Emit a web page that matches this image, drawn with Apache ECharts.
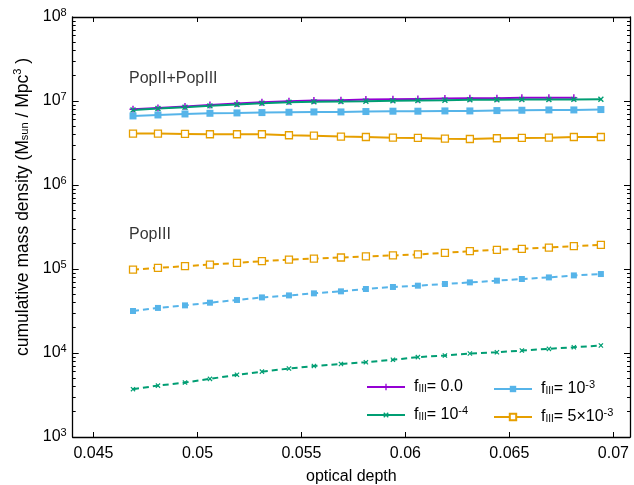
<!DOCTYPE html>
<html>
<head>
<meta charset="utf-8">
<script src="https://cdn.jsdelivr.net/npm/echarts@6/dist/echarts.min.js"></script>
<style>
html,body{margin:0;padding:0;background:#fff;}
#chart{width:634px;height:485px;}
</style>
</head>
<body>
<div id="chart"></div>
<script>
// optical depth (x) for each sample
const tau = [0.0469, 0.0481, 0.0494, 0.0506, 0.0519, 0.0531, 0.0544, 0.0556, 0.0569, 0.0581,
             0.0594, 0.0606, 0.0619, 0.0631, 0.0644, 0.0656, 0.0669, 0.0681, 0.0694];

// PopII+PopIII (solid)
const totF0   = [7.98e6, 8.28e6, 8.59e6, 8.98e6, 9.33e6, 9.68e6, 9.95e6, 1.014e7, 1.023e7, 1.042e7,
                 1.05e7, 1.059e7, 1.07e7, 1.08e7, 1.08e7, 1.09e7, 1.09e7, 1.09e7];
const totF4   = [7.83e6, 8.13e6, 8.43e6, 8.75e6, 9.08e6, 9.42e6, 9.68e6, 9.77e6, 9.87e6, 9.95e6,
                 1.004e7, 1.015e7, 1.023e7, 1.033e7, 1.033e7, 1.042e7, 1.042e7, 1.045e7, 1.05e7];
const totF3   = [6.64e6, 6.82e6, 7.01e6, 7.14e6, 7.21e6, 7.28e6, 7.35e6, 7.41e6, 7.41e6, 7.49e6,
                 7.56e6, 7.56e6, 7.62e6, 7.62e6, 7.69e6, 7.76e6, 7.83e6, 7.83e6, 7.91e6];
const totF53  = [4.09e6, 4.09e6, 4.06e6, 4.02e6, 4.02e6, 4.02e6, 3.91e6, 3.87e6, 3.77e6, 3.73e6,
                 3.66e6, 3.63e6, 3.56e6, 3.53e6, 3.6e6, 3.63e6, 3.66e6, 3.73e6, 3.73e6];

// PopIII only (dashed)
const p3F4    = [3.71e3, 4.09e3, 4.45e3, 4.92e3, 5.5e3, 6.0e3, 6.53e3, 7.0e3, 7.41e3, 7.76e3,
                 8.3e3, 8.93e3, 9.33e3, 9.86e3, 1.02e4, 1.07e4, 1.12e4, 1.17e4, 1.23e4];
const p3F3    = [3.16e4, 3.44e4, 3.69e4, 3.97e4, 4.28e4, 4.59e4, 4.85e4, 5.13e4, 5.42e4, 5.78e4,
                 6.11e4, 6.33e4, 6.63e4, 6.93e4, 7.26e4, 7.6e4, 7.94e4, 8.39e4, 8.71e4];
const p3F53   = [9.84e4, 1.03e5, 1.08e5, 1.13e5, 1.18e5, 1.24e5, 1.29e5, 1.33e5, 1.37e5, 1.41e5,
                 1.45e5, 1.49e5, 1.56e5, 1.63e5, 1.69e5, 1.74e5, 1.8e5, 1.87e5, 1.94e5];

const xTicks = [0.045, 0.05, 0.055, 0.06, 0.065, 0.07];
const yTicks = [1e3, 1e4, 1e5, 1e6, 1e7, 1e8];
const yMinor = [];
for (let e = 3; e < 8; e++) for (let m = 2; m <= 9; m++) yMinor.push(m * Math.pow(10, e));

const annotations = [
  { text: 'PopII+PopIII', x: 0.04671, y: 1.85e7 },
  { text: 'PopIII', x: 0.04671, y: 2.6e5 }
];

const FONT = 'Liberation Sans, Arial, Helvetica, sans-serif';
const C = { f0: '#9400D3', f4: '#009E73', f3: '#56B4E9', f53: '#E69F00' };

const PLUS = 'path://M4,0h2v4h4v2h-4v4h-2v-4h-4v-2h4z';

function pairs(v) { return v.map((y, i) => [tau[i], y]); }

function mk(name, color, vals, dashed, symbol, rotate, size, empty) {
  return {
    type: 'line', name: name, data: pairs(vals),
    xAxisIndex: 0, yAxisIndex: 0,
    symbol: symbol, symbolSize: size, symbolRotate: rotate || 0, showSymbol: true,
    lineStyle: { color: color, width: 2, type: dashed ? [6, 4] : 'solid' },
    itemStyle: empty ? { color: '#fff', borderColor: color, borderWidth: 1.3 } : { color: color, borderWidth: 0 },
    emphasis: { disabled: true }, animation: false, z: dashed ? 2 : 3
  };
}

const sup = (e) => '{b|10}{s|' + e + '}';

const rich = {
  b: { fontSize: 16, fontFamily: FONT, color: '#000' },
  s: { fontSize: 11, fontFamily: FONT, color: '#000', padding: [0, 0, 9, 0] },
  u: { fontSize: 10, fontFamily: FONT, color: '#000', padding: [5, 0, 0, 0] }
};

const legendLabels = {
  f0: '{b|f}{u|III}{b|= 0.0}',
  f4: '{b|f}{u|III}{b|= 10}{s|-4}',
  f3: '{b|f}{u|III}{b|= 10}{s|-3}',
  f53: '{b|f}{u|III}{b|= 5\u00d710}{s|-3}'
};

function legendCfg(data, left) {
  return {
    data: data, left: left, top: 374, orient: 'vertical', itemGap: 10,
    itemWidth: 38, itemHeight: 8, selectedMode: false,
    formatter: (n) => legendLabels[n],
    textStyle: { rich: rich, fontSize: 16, fontFamily: FONT, padding: [0, 0, 0, 4] }
  };
}

const option = {
  animation: false,
  grid: { left: 72.7, right: 4, top: 17, bottom: 48, containLabel: false, outerBoundsMode: 'none' },
  legend: [legendCfg(['f0', 'f4'], 361), legendCfg(['f3', 'f53'], 488)],
  xAxis: [
    {
      type: 'value', min: 0.044, max: 0.0708, position: 'bottom',
      name: 'optical depth', nameLocation: 'middle', nameGap: 32,
      nameTextStyle: { fontSize: 16, fontFamily: FONT, color: '#000' },
      axisLine: { show: true, onZero: false, lineStyle: { color: '#000', width: 1.3 } },
      axisTick: { show: true, inside: true, length: 5, customValues: xTicks, lineStyle: { color: '#000' } },
      axisLabel: { customValues: xTicks, fontSize: 16, fontFamily: FONT, color: '#000', margin: 9, formatter: (v) => String(+v.toFixed(3)) },
      splitLine: { show: false }
    },
    {
      type: 'value', min: 0.044, max: 0.0708, position: 'top',
      axisLine: { show: true, onZero: false, lineStyle: { color: '#000', width: 1.3 } },
      axisTick: { show: true, inside: true, length: 5, customValues: xTicks, lineStyle: { color: '#000' } },
      axisLabel: { show: false }, splitLine: { show: false }
    }
  ],
  yAxis: [
    {
      type: 'log', logBase: 10, min: 1e3, max: 1e8, position: 'left',
      name: '{n|cumulative mass density (M}{m|sun}{n| / Mpc}{p|3}{n| )}',
      nameLocation: 'middle', nameGap: 38,
      nameTextStyle: {
        padding: [0, 0, 0, 40],
        rich: {
          n: { fontSize: 17.5, fontFamily: FONT, color: '#000' },
          m: { fontSize: 11, fontFamily: FONT, color: '#000', padding: [5, 0, 0, 0] },
          p: { fontSize: 11, fontFamily: FONT, color: '#000', padding: [0, 0, 9, 0] }
        }
      },
      axisLine: { show: true, onZero: false, lineStyle: { color: '#000', width: 1.3 } },
      axisTick: { show: true, inside: true, length: 6, customValues: yTicks, lineStyle: { color: '#000' } },
      axisLabel: { customValues: yTicks, margin: 6, formatter: (v) => sup(Math.round(Math.log10(v))), rich: rich },
      splitLine: { show: false }
    },
    {
      type: 'log', logBase: 10, min: 1e3, max: 1e8, position: 'left',
      axisLine: { show: false },
      axisTick: { show: true, inside: true, length: 3, customValues: yMinor, lineStyle: { color: '#000' } },
      axisLabel: { show: false }, splitLine: { show: false }
    },
    {
      type: 'log', logBase: 10, min: 1e3, max: 1e8, position: 'right',
      axisLine: { show: true, onZero: false, lineStyle: { color: '#000', width: 1.3 } },
      axisTick: { show: true, inside: true, length: 6, customValues: yTicks, lineStyle: { color: '#000' } },
      axisLabel: { show: false }, splitLine: { show: false }
    },
    {
      type: 'log', logBase: 10, min: 1e3, max: 1e8, position: 'right',
      axisLine: { show: false },
      axisTick: { show: true, inside: true, length: 3, customValues: yMinor, lineStyle: { color: '#000' } },
      axisLabel: { show: false }, splitLine: { show: false }
    }
  ],
  series: [
    mk('f0', C.f0, totF0, false, PLUS, 0, 7, false),
    mk('f4', C.f4, totF4, false, PLUS, 45, 7, false),
    mk('f3', C.f3, totF3, false, 'rect', 0, 7, false),
    mk('f53', C.f53, totF53, false, 'rect', 0, 7, true),
    mk('f4', C.f4, p3F4, true, PLUS, 45, 6, false),
    mk('f3', C.f3, p3F3, true, 'rect', 0, 6, false),
    mk('f53', C.f53, p3F53, true, 'rect', 0, 7, true),
    {
      type: 'scatter', name: 'annot', data: annotations.map(a => [a.x, a.y, a.text]),
      symbolSize: 0, silent: true,
      label: { show: true, position: 'right', distance: 0, formatter: (p) => p.data[2], fontSize: 16, fontFamily: FONT, color: '#000' }
    }
  ]
};

const chart = echarts.init(document.getElementById('chart'), null, { renderer: 'canvas' });
chart.setOption(option);
</script>
</body>
</html>
